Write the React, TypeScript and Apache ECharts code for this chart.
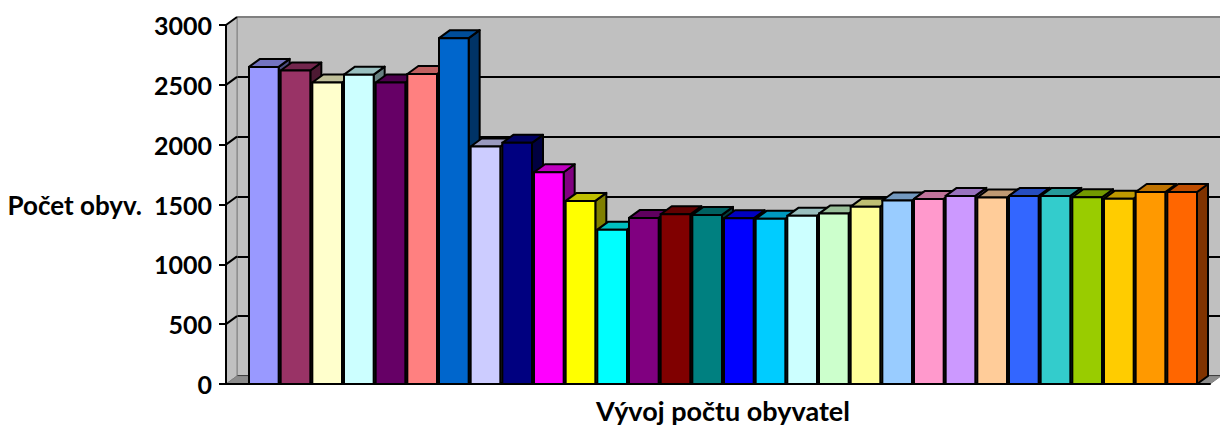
import React, { useEffect, useRef } from 'react';
import * as echarts from 'echarts';

const categories = ['1', '2', '3', '4', '5', '6', '7', '8', '9', '10', '11', '12', '13', '14', '15', '16', '17', '18', '19', '20', '21', '22', '23', '24', '25', '26', '27', '28', '29', '30'];
const population = [2650, 2620, 2520, 2585, 2520, 2590, 2890, 1985, 2015, 1770, 1530, 1290, 1388, 1419, 1413, 1385, 1380, 1405, 1424, 1482, 1533, 1547, 1572, 1558, 1572, 1572, 1561, 1549, 1605, 1605];
const barColors = ['#9999FF', '#993366', '#FFFFCC', '#CCFFFF', '#660066', '#FF8080', '#0066CC', '#CCCCFF', '#000080', '#FF00FF', '#FFFF00', '#00FFFF', '#800080', '#800000', '#008080', '#0000FF', '#00CCFF', '#CCFFFF', '#CCFFCC', '#FFFF99', '#99CCFF', '#FF99CC', '#CC99FF', '#FFCC99', '#3366FF', '#33CCCC', '#99CC00', '#FFCC00', '#FF9900', '#FF6600'];
const yTicks = [0, 500, 1000, 1500, 2000, 2500, 3000];
const yMin = 0;
const yMax = 3000;
const yStep = 500;

const DX = 11;
const DY = -8;
const FONT = 'Lato';

function shade(hex: string, f: number): string {
  const n = parseInt(hex.slice(1), 16);
  const r = Math.round(((n >> 16) & 255) * f);
  const g = Math.round(((n >> 8) & 255) * f);
  const b = Math.round((n & 255) * f);
  return `rgb(${r},${g},${b})`;
}

export default function App() {
  const ref = useRef<HTMLDivElement>(null);
  useEffect(() => {
    document.body.style.margin = '0';
    const chart = echarts.init(ref.current as HTMLDivElement, null, { renderer: 'svg' });
    const labelStyle = { fontFamily: FONT, fontWeight: 'bold' as const, fontSize: 25, color: '#000' };
    chart.setOption({
      animation: false,
      backgroundColor: '#ffffff',
      grid: [
        { left: 237, top: 17, width: 995, height: 359, show: true, backgroundColor: '#c0c0c0', borderColor: '#808080', borderWidth: 1, outerBoundsMode: 'none' },
        { left: 226, top: 25, width: 984, height: 359, outerBoundsMode: 'none' },
        { left: 248, top: 25, width: 950, height: 359, outerBoundsMode: 'none' },
      ],
      xAxis: [
        { gridIndex: 0, type: 'value', min: 0, max: 1, show: false },
        { gridIndex: 1, type: 'value', min: 0, max: 1, axisLine: { show: true, onZero: false, lineStyle: { color: '#000', width: 2 } }, axisTick: { show: false }, axisLabel: { show: false }, splitLine: { show: false }, z: 10 },
        {
          gridIndex: 2, type: 'category', data: categories,
          axisLine: { show: false }, axisTick: { show: false }, axisLabel: { show: false }, splitLine: { show: false },
          name: 'Vývoj počtu obyvatel', nameLocation: 'middle', nameGap: 13, nameTextStyle: { ...labelStyle, fontSize: 27 },
        },
      ],
      yAxis: [
        {
          gridIndex: 0, type: 'value', min: yMin, max: yMax, interval: yStep,
          axisLine: { show: false }, axisTick: { show: false }, axisLabel: { show: false },
          splitLine: { show: true, lineStyle: { color: ['#000', '#000', '#000', '#000', '#000', '#000', '#808080'], width: 2 } },
        },
        {
          gridIndex: 1, type: 'value', min: yMin, max: yMax, interval: yStep,
          axisLine: { show: true, lineStyle: { color: '#000', width: 2 } },
          axisTick: { show: true, length: 7, lineStyle: { color: '#000', width: 2 } },
          axisLabel: { ...labelStyle, margin: 14, formatter: (v: number) => String(v) },
          splitLine: { show: false },
          name: 'Počet obyv.', nameLocation: 'middle', nameRotate: 0, nameGap: 84, nameTextStyle: { ...labelStyle, fontSize: 26 },
          z: 10,
        },
        { gridIndex: 2, type: 'value', min: yMin, max: yMax, show: false },
      ],
      series: [
        {
          type: 'custom',
          name: 'walls',
          xAxisIndex: 1,
          yAxisIndex: 1,
          silent: true,
          data: [[0, 0]],
          renderItem: (params: any, api: any) => {
            const bl = api.coord([0, yMin]);
            const tl = api.coord([0, yMax]);
            const br = api.coord([1, yMin]);
            const children: any[] = [
              { type: 'polygon', shape: { points: [tl, [tl[0] + DX, tl[1] + DY], [bl[0] + DX, bl[1] + DY], bl] }, style: { fill: '#c0c0c0', stroke: '#808080', lineWidth: 1 } },
              { type: 'polygon', shape: { points: [bl, [bl[0] + DX, bl[1] + DY], [br[0] + DX, br[1] + DY], br] }, style: { fill: '#8c8c8c', stroke: '#808080', lineWidth: 1 } },
            ];
            yTicks.forEach((v) => {
              if (v === yMin) return;
              const p = api.coord([0, v]);
              children.push({ type: 'line', shape: { x1: p[0], y1: p[1], x2: p[0] + DX, y2: p[1] + DY }, style: { stroke: '#000', lineWidth: 2 } });
            });
            return { type: 'group', children };
          },
        },
        {
          type: 'custom',
          name: 'Počet obyv.',
          xAxisIndex: 2,
          yAxisIndex: 2,
          data: population.map((v, i) => [i, v]),
          renderItem: (params: any, api: any) => {
            const i = api.value(0);
            const v = api.value(1);
            const top = api.coord([i, v]);
            const base = api.coord([i, 0]);
            const band = api.size([1, 0])[0];
            const w = band - 2;
            const x0 = top[0] - w / 2;
            const x1 = x0 + w;
            const y0 = top[1];
            const y1 = base[1];
            const c = barColors[i % barColors.length];
            return {
              type: 'group',
              z2: i,
              children: [
                { type: 'polygon', z2: i, shape: { points: [[x1, y0], [x1 + DX, y0 + DY], [x1 + DX, y1 + DY], [x1, y1]] }, style: { fill: shade(c, 0.5), stroke: '#000', lineWidth: 2, lineJoin: 'round' } },
                { type: 'polygon', z2: i, shape: { points: [[x0, y0], [x0 + DX, y0 + DY], [x1 + DX, y0 + DY], [x1, y0]] }, style: { fill: shade(c, 0.75), stroke: '#000', lineWidth: 2, lineJoin: 'round' } },
                { type: 'rect', z2: i, shape: { x: x0, y: y0, width: w, height: y1 - y0 }, style: { fill: c, stroke: '#000', lineWidth: 2 } },
              ],
            };
          },
        },
      ],
    });
    return () => chart.dispose();
  }, []);
  return <div ref={ref} style={{ width: 1220, height: 430 }} />;
}
